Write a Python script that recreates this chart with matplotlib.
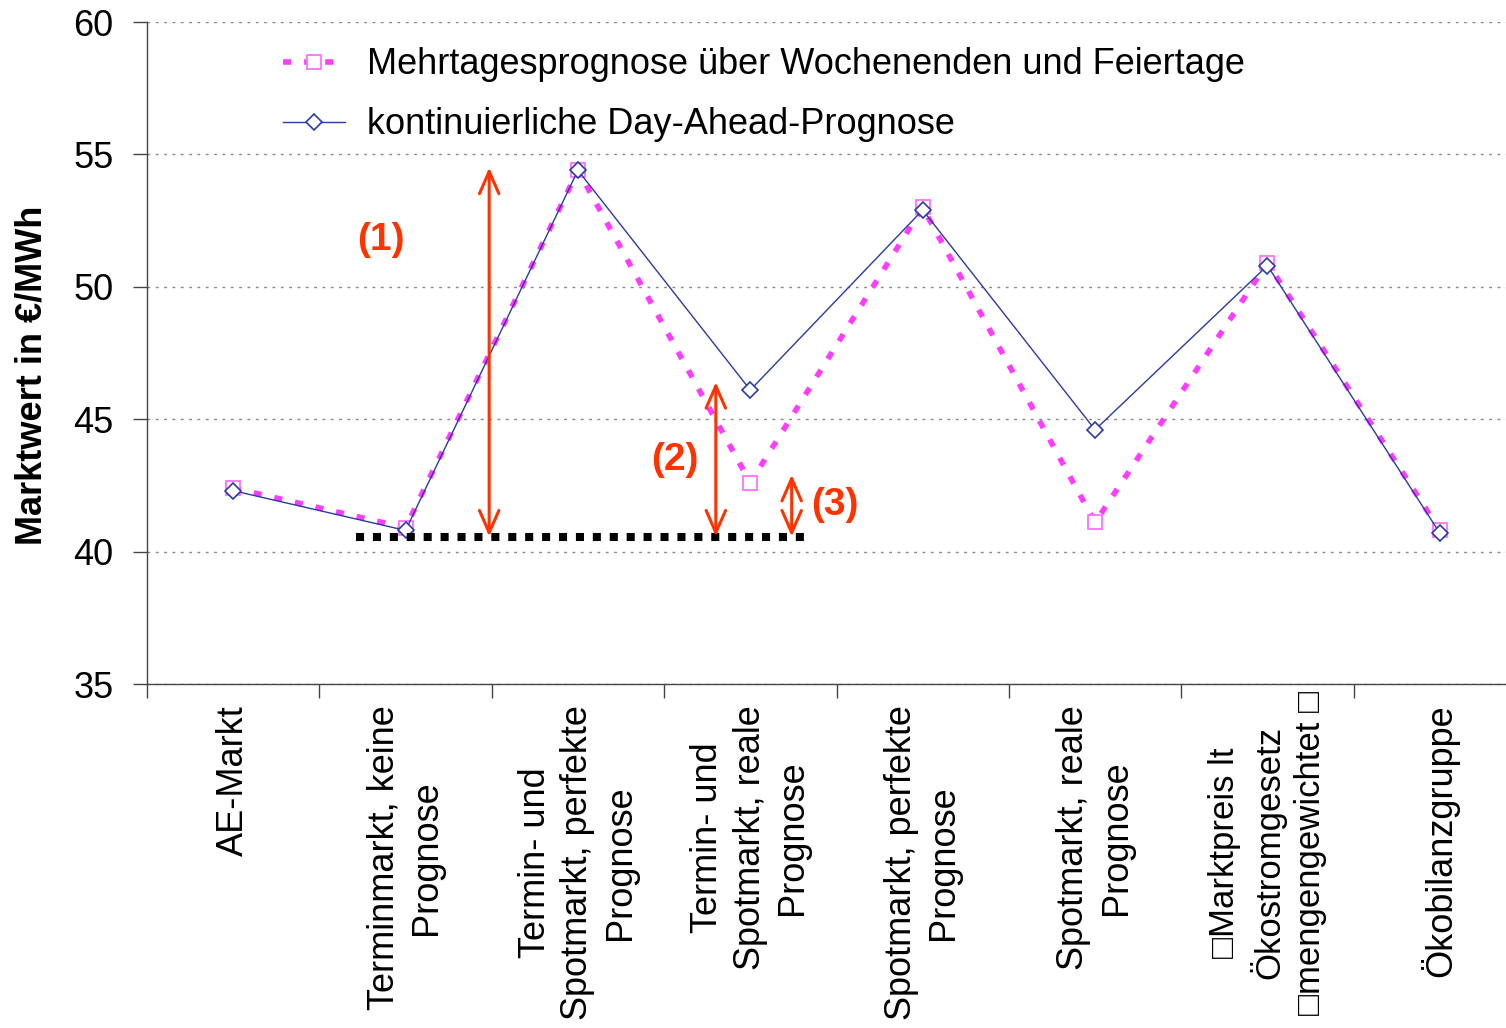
import numpy as np
import matplotlib
matplotlib.use('Agg')
import matplotlib.pyplot as plt
import matplotlib.transforms as mtransforms

plt.rcParams['font.family'] = ['Liberation Sans', 'DejaVu Sans']

# categories (x axis) and the two series
categories = ["AE-Markt",
              "Terminmarkt, keine\nPrognose",
              "Termin- und\nSpotmarkt, perfekte\nPrognose",
              "Termin- und\nSpotmarkt, reale\nPrognose",
              "Spotmarkt, perfekte\nPrognose",
              "Spotmarkt, reale\nPrognose",
              "\u25a1Marktpreis lt\n\u00d6kostromgesetz\n\u25a1mengengewichtet \u25a1",
              "\u00d6kobilanzgruppe"]
mehrtages = [42.4, 40.9, 54.4, 42.6, 53.0, 41.1, 50.9, 40.8]
dayahead = [42.3, 40.8, 54.4, 46.1, 52.9, 44.6, 50.8, 40.7]
labels = ["Mehrtagesprognose über Wochenenden und Feiertage",
          "kontinuierliche Day-Ahead-Prognose"]

# annotations: base line and the three difference arrows
base_level = 40.57
base_span = [0.71, 3.32]
arrow_x = [1.485, 2.80, 3.24]
arrow_top = [54.5, 46.4, 42.9]
arrow_text = ["(1)", "(2)", "(3)"]
text_xy = [(0.858, 51.78), (2.564, 43.47), (3.49, 41.77)]

red = '#FF3300'
fs = 26

fig = plt.figure(figsize=(15.06, 10.28), dpi=100)
ax = fig.add_axes([147/1506, 344/1028, 1379/1506, 662/1028])

x = np.arange(len(categories))
ax.plot(x, mehrtages, color='#FF3CFF', lw=4, linestyle=(0, (1.45, 2.35)),
        marker='s', ms=9.5, mfc='white', mec='#FF70FF', mew=1.3, label=labels[0])
ax.plot(x, dayahead, color='#2B3A9E', lw=1, marker='D', ms=8.5,
        mfc='white', mec='#2B3A9E', mew=1.2, label=labels[1])

ax.plot(base_span, [base_level, base_level], color='black', lw=5.8,
        linestyle=(0, (1, 1.1)), solid_capstyle='butt')
for xa, yt in zip(arrow_x, arrow_top):
    ax.annotate('', xy=(xa, yt), xytext=(xa, base_level),
                arrowprops=dict(arrowstyle='<->,head_length=0.8,head_width=0.35',
                                color=red, lw=2.2, shrinkA=0, shrinkB=0,
                                mutation_scale=20))
for t, (tx, ty) in zip(arrow_text, text_xy):
    ax.text(tx, ty, t, color=red, fontsize=28, fontweight='bold',
            ha='center', va='center')

ax.set_xlim(-0.5, 7.5)
ax.set_ylim(35, 60)
ax.set_yticks(np.arange(35, 61, 5))
ax.set_xticks(x)
ax.set_xticklabels(categories, rotation=90, fontsize=fs, ha='center',
                   va='top', multialignment='center', linespacing=1.28)
ax.set_xticks(np.arange(-0.5, 8, 1), minor=True)
ax.tick_params(axis='x', which='major', length=0, pad=15)
ax.tick_params(axis='x', which='minor', length=10, width=1, color='#444444')
ax.tick_params(axis='y', length=10, width=1, color='#444444', labelsize=fs, pad=14)

# the long label with the broken glyphs sits a bit higher and smaller
lab6 = ax.get_xticklabels()[6]
lab6.set_fontsize(25)
lab6.set_transform(lab6.get_transform() +
                   mtransforms.ScaledTranslation(0, 14/100, fig.dpi_scale_trans))

ax.grid(axis='y', color='#888888', linestyle=(0, (2, 4)), lw=1)
ax.spines['top'].set_visible(False)
ax.spines['right'].set_visible(False)
for s in ['left', 'bottom']:
    ax.spines[s].set_color('#444444')
    ax.spines[s].set_linewidth(1)

fig.text(32/1506, 1 - 375/1028, 'Marktwert in €/MWh', rotation=90,
         fontsize=fs, fontweight='bold', ha='center', va='center')

ax.legend(loc='upper left', bbox_to_anchor=(0.0986, 0.962), frameon=False,
          fontsize=fs, handlelength=1.72, handletextpad=0.6, labelspacing=0.7,
          borderpad=0, borderaxespad=0, numpoints=1)

fig.savefig('out.png', dpi=100)
